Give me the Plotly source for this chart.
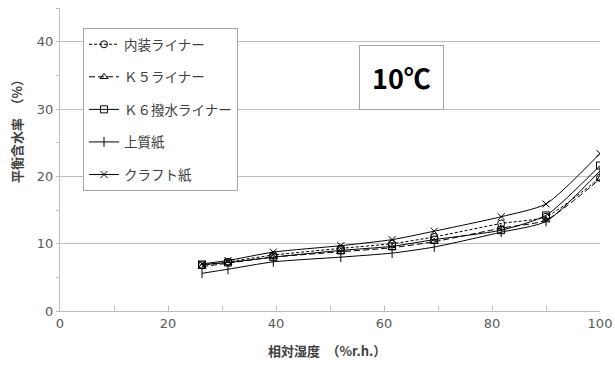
import plotly.graph_objects as go

humidity = [26.3, 31.1, 39.5, 52.0, 61.5, 69.3, 81.7, 90.0, 100]
naisou = [6.8, 7.3, 8.3, 9.3, 10.0, 11.0, 13.0, 14.0, 19.8]
k5 = [6.6, 7.1, 8.0, 8.8, 9.4, 10.3, 12.3, 13.5, 19.6]
k6 = [6.9, 7.2, 8.0, 9.0, 9.6, 10.6, 12.0, 14.2, 21.6]
joushitsu = [5.6, 6.2, 7.3, 8.0, 8.6, 9.5, 11.7, 13.3, 20.8]
kraft = [7.0, 7.5, 8.75, 9.7, 10.6, 11.85, 14.0, 15.9, 23.4]

names = ["内装ライナー", "Ｋ５ライナー", "Ｋ６撥水ライナー", "上質紙", "クラフト紙"]
series = [naisou, k5, k6, joushitsu, kraft]
symbols = ["circle-open", "triangle-up-open", "square-open", "line-ns-open", "x-thin-open"]
dashes = ["3px,2px", "6px,3px", "solid", "solid", "solid"]

jp = "Noto Sans CJK JP"
fig = go.Figure()
for i, (n, s, sym, d) in enumerate(zip(names, series, symbols, dashes)):
    fig.add_trace(go.Scatter(
        x=humidity, y=s, name=n, mode="lines+markers", legendgroup=str(i),
        line=dict(color="black", width=1, dash=d, shape="spline", smoothing=0.6),
        marker=dict(symbol=sym, size=7, color="black", line=dict(color="black", width=1)),
    ))

# plot area: x 60..600, y 8..311 (window pixels)
fig.update_layout(
    width=615, height=365,
    margin=dict(l=60, r=15, t=8, b=54),
    paper_bgcolor="white", plot_bgcolor="white",
    font=dict(family=jp, color="#404040"),
    showlegend=True,
    legend=dict(x=0.0426, y=0.934, xanchor="left", yanchor="top",
                bordercolor="#a6a6a6", borderwidth=1, bgcolor="white",
                font=dict(family=jp, size=13.5, color="#404040"),
                tracegroupgap=12, itemwidth=30),
    xaxis=dict(range=[0, 100], dtick=20, showgrid=False, showline=True, automargin=False,
               linecolor="#bfbfbf", linewidth=1,
               ticks="inside", ticklen=5, tickcolor="#bfbfbf",
               minor=dict(dtick=10, ticks="inside", ticklen=5, tickcolor="#bfbfbf"),
               tickfont=dict(family="DejaVu Sans", size=13, color="#595959"),
               zeroline=False),
    yaxis=dict(range=[0, 45], dtick=10, tick0=0, showgrid=True, gridcolor="#bfbfbf", gridwidth=1,
               showline=True, linecolor="#bfbfbf", linewidth=1, automargin=False,
               ticks="outside", ticklen=3, tickcolor="#bfbfbf",
               minor=dict(dtick=5, ticks="outside", ticklen=3, tickcolor="#bfbfbf"),
               tickfont=dict(family="DejaVu Sans", size=13, color="#595959"),
               zeroline=False),
    annotations=[
        dict(x=0.553, y=0.769, xref="paper", yref="paper", xanchor="left", yanchor="middle",
             text="<b>10℃</b>", showarrow=False,
             font=dict(family=jp, size=27, color="black"),
             bordercolor="#a6a6a6", borderwidth=1, borderpad=12, bgcolor="white"),
        dict(x=-0.0796, y=0.604, xref="paper", yref="paper", xanchor="center", yanchor="middle",
             text="<b>平衡含水率　（%）</b>", showarrow=False, textangle=-90,
             font=dict(family=jp, size=13, color="#404040")),
        dict(x=0.494, y=-0.129, xref="paper", yref="paper", xanchor="center", yanchor="middle",
             text="<b>相対湿度　（%r.h.）</b>", showarrow=False,
             font=dict(family=jp, size=13, color="#404040")),
    ],
)

fig.write_html("out.html", config={"displayModeBar": False},
               post_script="document.body.style.margin='0';document.body.style.overflow='hidden';")
